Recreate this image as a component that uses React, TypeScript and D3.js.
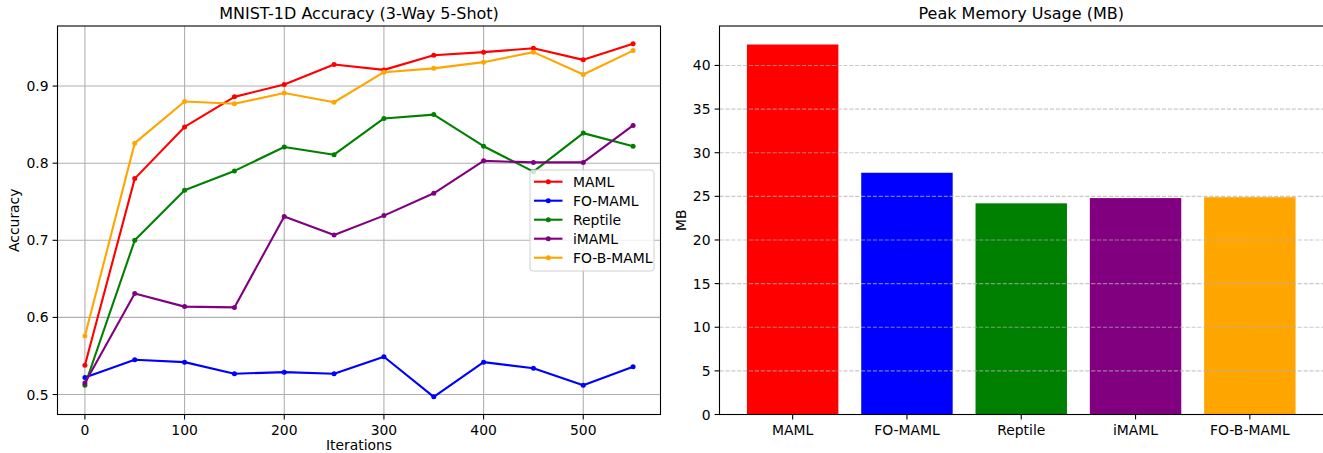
import * as d3 from "d3";

const iterations = [0, 50, 100, 150, 200, 250, 300, 350, 400, 450, 500, 550];

const mamlAcc = [0.538, 0.780, 0.847, 0.886, 0.902, 0.928, 0.921, 0.940, 0.944, 0.949, 0.934, 0.955];
const foMamlAcc = [0.522, 0.545, 0.542, 0.527, 0.529, 0.527, 0.549, 0.497, 0.542, 0.534, 0.512, 0.536];
const reptileAcc = [0.512, 0.700, 0.765, 0.790, 0.821, 0.811, 0.858, 0.863, 0.822, 0.789, 0.839, 0.822];
const imamlAcc = [0.515, 0.631, 0.614, 0.613, 0.731, 0.707, 0.732, 0.761, 0.803, 0.801, 0.801, 0.849];
const foBMamlAcc = [0.576, 0.826, 0.880, 0.877, 0.891, 0.879, 0.918, 0.923, 0.931, 0.944, 0.915, 0.946];

const methods = ["MAML", "FO-MAML", "Reptile", "iMAML", "FO-B-MAML"];
const colors = ["red", "blue", "green", "purple", "orange"];
const memoryMB = [42.4, 27.7, 24.2, 24.8, 24.9];

const accTicks = [0.5, 0.6, 0.7, 0.8, 0.9];
const iterTicks = [0, 100, 200, 300, 400, 500];
const mbTicks = [0, 5, 10, 15, 20, 25, 30, 35, 40];

const FONT = "DejaVu Sans, sans-serif";

const App = () => {
    const series = [mamlAcc, foMamlAcc, reptileAcc, imamlAcc, foBMamlAcc];

    // left axes box
    const L = {left: 57.5, right: 660.5, top: 26, bottom: 414.5};
    const [xMin, xMax] = d3.extent(iterations) as [number, number];
    const xPad = (xMax - xMin) * 0.05;
    const xScale = d3.scaleLinear().domain([xMin - xPad, xMax + xPad]).range([L.left, L.right]);
    const allAcc = series.flat();
    const [yMin, yMax] = d3.extent(allAcc) as [number, number];
    const yPad = (yMax - yMin) * 0.05;
    const yScale = d3.scaleLinear().domain([yMin - yPad, yMax + yPad]).range([L.bottom, L.top]);

    const line = d3.line<number>()
        .x((_, i) => xScale(iterations[i]))
        .y(d => yScale(d));

    // right axes box
    const R = {left: 719.5, right: 1323, top: 26, bottom: 414.5};
    const bx = d3.scaleLinear().domain([-0.64, methods.length - 1 + 0.64]).range([R.left, R.right]);
    const by = d3.scaleLinear().domain([0, (d3.max(memoryMB) as number) * 1.05]).range([R.bottom, R.top]);
    const barW = bx(0.8) - bx(0);

    const legendX = 530, legendY = 170;

    return (
        <svg width={1323} height={453} style={{position: "absolute", left: 0, top: 0}} fontFamily={FONT}>
            <rect width={1323} height={453} fill="white"/>

            {/* ---- left: accuracy lines ---- */}
            <text x={(L.left + L.right) / 2} y={19} textAnchor="middle" fontSize={16}>MNIST-1D Accuracy (3-Way 5-Shot)</text>
            {iterTicks.map(t => (
                <line key={"gx" + t} x1={xScale(t)} x2={xScale(t)} y1={L.top} y2={L.bottom} stroke="#b0b0b0" strokeWidth={1.1}/>
            ))}
            {accTicks.map(t => (
                <line key={"gy" + t} x1={L.left} x2={L.right} y1={yScale(t)} y2={yScale(t)} stroke="#b0b0b0" strokeWidth={1.1}/>
            ))}
            {series.map((s, k) => (
                <g key={methods[k]}>
                    <path d={line(s) ?? ""} fill="none" stroke={colors[k]} strokeWidth={2.1} strokeLinejoin="round"/>
                    {s.map((v, i) => (
                        <circle key={i} cx={xScale(iterations[i])} cy={yScale(v)} r={2.5} fill={colors[k]}/>
                    ))}
                </g>
            ))}
            <rect x={L.left} y={L.top} width={L.right - L.left} height={L.bottom - L.top} fill="none" stroke="black" strokeWidth={1.1}/>
            {iterTicks.map(t => (
                <g key={"tx" + t}>
                    <line x1={xScale(t)} x2={xScale(t)} y1={L.bottom} y2={L.bottom + 4.9} stroke="black" strokeWidth={1.1}/>
                    <text x={xScale(t)} y={L.bottom + 20} textAnchor="middle" fontSize={13.9}>{t}</text>
                </g>
            ))}
            {accTicks.map(t => (
                <g key={"ty" + t}>
                    <line x1={L.left - 4.9} x2={L.left} y1={yScale(t)} y2={yScale(t)} stroke="black" strokeWidth={1.1}/>
                    <text x={L.left - 9} y={yScale(t) + 5} textAnchor="end" fontSize={13.9}>{t.toFixed(1)}</text>
                </g>
            ))}
            <text x={(L.left + L.right) / 2} y={450} textAnchor="middle" fontSize={13.9}>Iterations</text>
            <text transform={`translate(19,${(L.top + L.bottom) / 2}) rotate(-90)`} textAnchor="middle" fontSize={13.9}>Accuracy</text>

            {/* legend */}
            <rect x={legendX} y={legendY} width={124} height={101} rx={3} fill="white" fillOpacity={0.8} stroke="#d0d0d0" strokeWidth={1}/>
            {methods.map((m, k) => {
                const ly = legendY + 11.7 + k * 19;
                return (
                    <g key={"lg" + m}>
                        <line x1={legendX + 4} x2={legendX + 32.5} y1={ly} y2={ly} stroke={colors[k]} strokeWidth={2.1}/>
                        <circle cx={legendX + 18.3} cy={ly} r={2.5} fill={colors[k]}/>
                        <text x={legendX + 43} y={ly + 5} fontSize={13.9}>{m}</text>
                    </g>
                );
            })}

            {/* ---- right: memory bars ---- */}
            <text x={(R.left + R.right) / 2} y={19} textAnchor="middle" fontSize={16}>Peak Memory Usage (MB)</text>
            {methods.map((m, i) => (
                <rect key={"bar" + m} x={bx(i) - barW / 2} y={by(memoryMB[i])} width={barW} height={by(0) - by(memoryMB[i])} fill={colors[i]}/>
            ))}
            {mbTicks.map(t => (
                <line key={"gm" + t} x1={R.left} x2={R.right} y1={by(t)} y2={by(t)} stroke="#b0b0b0" strokeOpacity={0.7} strokeWidth={1.1} strokeDasharray="4.1,1.8"/>
            ))}
            <rect x={R.left} y={R.top} width={R.right - R.left + 2} height={R.bottom - R.top} fill="none" stroke="black" strokeWidth={1.1}/>
            {methods.map((m, i) => (
                <g key={"bt" + m}>
                    <line x1={bx(i)} x2={bx(i)} y1={R.bottom} y2={R.bottom + 4.9} stroke="black" strokeWidth={1.1}/>
                    <text x={bx(i)} y={R.bottom + 20} textAnchor="middle" fontSize={13.9}>{m}</text>
                </g>
            ))}
            {mbTicks.map(t => (
                <g key={"tm" + t}>
                    <line x1={R.left - 4.9} x2={R.left} y1={by(t)} y2={by(t)} stroke="black" strokeWidth={1.1}/>
                    <text x={R.left - 9} y={by(t) + 5} textAnchor="end" fontSize={13.9}>{t}</text>
                </g>
            ))}
            <text transform={`translate(686,${(R.top + R.bottom) / 2}) rotate(-90)`} textAnchor="middle" fontSize={13.9}>MB</text>
        </svg>
    );
};

export default App;
